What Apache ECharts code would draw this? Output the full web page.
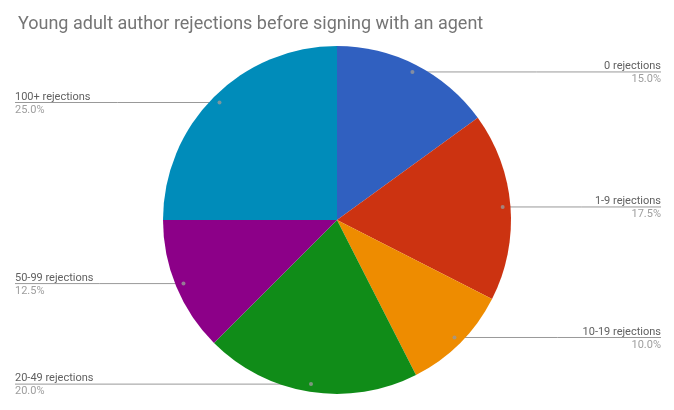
<!DOCTYPE html>
<html>
<head>
<meta charset="utf-8">
<script src="https://cdn.jsdelivr.net/npm/echarts@6/dist/echarts.min.js"></script>
<style>html,body{margin:0;padding:0;background:#fff}#c{width:674px;height:410px}</style>
</head>
<body>
<div id="c"></div>
<script>
const categories = ['0 rejections', '1-9 rejections', '10-19 rejections', '20-49 rejections', '50-99 rejections', '100+ rejections'];
const values = [15, 17.5, 10, 20, 12.5, 25];
const colors = ['#3060c0', '#cc3311', '#ee8c00', '#108c18', '#8c0088', '#008cba'];
const titleText = 'Young adult author rejections before signing with an agent';

const CX = 337, CY = 220, R = 174, DOT = 0.955;
const total = values.reduce((a, b) => a + b, 0);
let cum = 0;
const mids = values.map(v => { const m = cum + v / 2; cum += v; return m / total * 100; });

const chart = echarts.init(document.getElementById('c'));
chart.setOption({
  animation: false,
  title: {
    text: titleText, left: 13, top: 10,
    textStyle: { fontFamily: 'Roboto', fontSize: 18, fontWeight: 'normal', color: '#757575' }
  },
  polar: { center: [CX, CY], radius: R },
  angleAxis: { type: 'value', min: 0, max: 100, startAngle: 90, clockwise: true, show: false },
  radiusAxis: { type: 'value', min: 0, max: 1, show: false },
  series: [{
    type: 'pie',
    center: [CX, CY],
    radius: [0, R],
    startAngle: 90,
    clockwise: true,
    data: categories.map((c, i) => ({ name: c, value: values[i], itemStyle: { color: colors[i] } })),
    label: {
      show: true,
      position: 'outside',
      formatter: p => '{n|' + p.name + '}\n{p|' + p.percent.toFixed(1) + '%}',
      rich: {
        n: { fontFamily: 'Roboto', fontSize: 11, color: '#616161', lineHeight: 13 },
        p: { fontFamily: 'Roboto', fontSize: 11, color: '#9e9e9e', lineHeight: 13 }
      }
    },
    labelLine: { show: true, lineStyle: { color: '#999', width: 1 } },
    labelLayout: function (params) {
      const p0 = params.labelLinePoints[0];
      const dx = CX + (p0[0] - CX) * DOT;
      const dy = CY + (p0[1] - CY) * DOT;
      const right = p0[0] >= CX;
      const ex = right ? 661 : 15;
      return {
        x: ex, y: dy + 1, align: right ? 'right' : 'left', verticalAlign: 'middle',
        labelLinePoints: [[dx, dy], [(dx + ex) / 2, dy], [ex, dy]]
      };
    },
    emphasis: { disabled: true }
  }, {
    type: 'scatter',
    coordinateSystem: 'polar',
    symbolSize: 4,
    itemStyle: { color: '#999' },
    silent: true,
    z: 5,
    data: mids.map(m => [DOT, m])
  }]
});
</script>
</body>
</html>
